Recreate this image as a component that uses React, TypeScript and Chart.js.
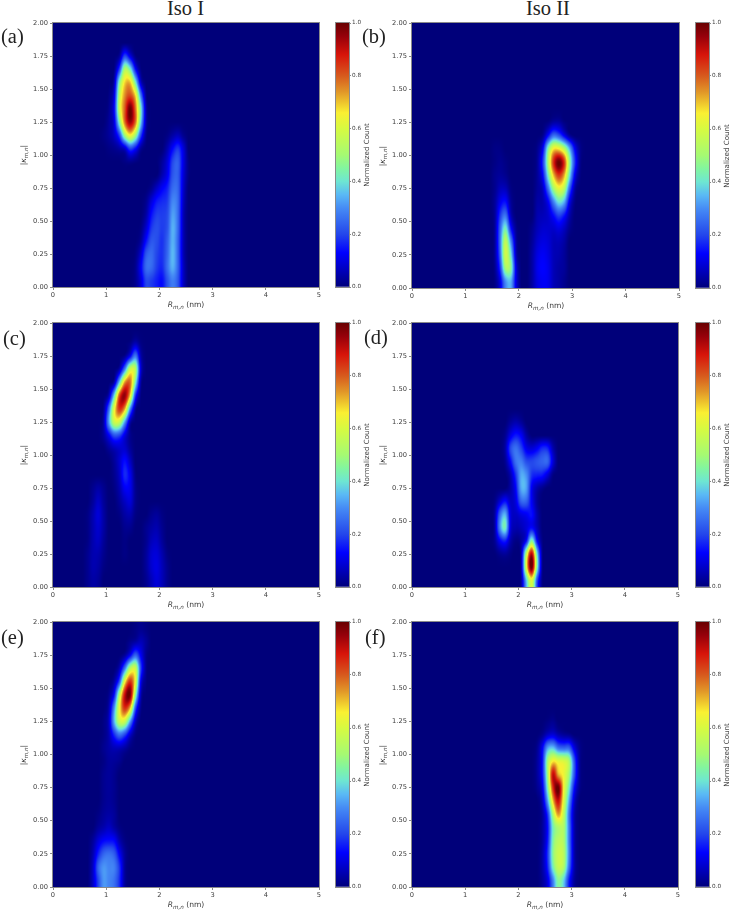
import React, { useEffect, useRef } from "react";
import { Chart, registerables, ScatterController } from "chart.js";

// Each row: [|kappa| bin centre, R of first bin, normalized count per 0.1 nm bin...]
type Row = number[];

const panelAUpper: Row[] = [
  [1.75, 1.25, 0.03, 0.2, 0.1, 0.01],
  [1.65, 1.15, 0.01, 0.2, 0.52, 0.42, 0.14, 0.01],
  [1.55, 1.15, 0.05, 0.45, 0.68, 0.7, 0.42, 0.08],
  [1.45, 1.05, 0.01, 0.1, 0.55, 0.75, 0.82, 0.68, 0.28, 0.02],
  [1.35, 1.05, 0.02, 0.13, 0.58, 0.8, 1.0, 0.78, 0.42, 0.05],
  [1.25, 1.05, 0.03, 0.1, 0.45, 0.78, 0.95, 0.78, 0.38, 0.05],
  [1.15, 0.95, 0.01, 0.03, 0.07, 0.2, 0.5, 0.65, 0.5, 0.2, 0.02],
  [1.05, 1.05, 0.01, 0.02, 0.04, 0.08, 0.2, 0.14, 0.03],
  [0.95, 1.35, 0.01, 0.02, 0.01],
];
const panelALower: Row[] = [
  [1.15, 2.15, 0.01, 0.04, 0.06, 0.02],
  [1.05, 2.15, 0.05, 0.13, 0.18, 0.09],
  [0.95, 2.05, 0.03, 0.09, 0.2, 0.23, 0.1, 0.01],
  [0.85, 2.05, 0.05, 0.11, 0.22, 0.23, 0.09, 0.01],
  [0.75, 1.85, 0.02, 0.07, 0.12, 0.16, 0.25, 0.24, 0.08],
  [0.65, 1.75, 0.02, 0.09, 0.15, 0.17, 0.19, 0.29, 0.25, 0.07],
  [0.55, 1.75, 0.04, 0.14, 0.19, 0.19, 0.21, 0.32, 0.25, 0.06],
  [0.45, 1.65, 0.01, 0.08, 0.18, 0.21, 0.19, 0.22, 0.34, 0.25, 0.06],
  [0.35, 1.65, 0.03, 0.14, 0.22, 0.21, 0.18, 0.24, 0.34, 0.24, 0.06],
  [0.25, 1.55, 0.01, 0.08, 0.22, 0.25, 0.2, 0.18, 0.25, 0.35, 0.24, 0.06],
  [0.15, 1.55, 0.02, 0.12, 0.25, 0.25, 0.19, 0.17, 0.26, 0.34, 0.24, 0.07],
  [0.05, 1.55, 0.02, 0.09, 0.2, 0.19, 0.16, 0.14, 0.22, 0.28, 0.22, 0.07],
];

const panelBMain: Row[] = [
  [1.25, 2.55, 0.01, 0.04, 0.04, 0.01],
  [1.15, 2.45, 0.02, 0.14, 0.26, 0.22, 0.12, 0.03],
  [1.05, 2.35, 0.02, 0.12, 0.45, 0.66, 0.66, 0.55, 0.34, 0.12, 0.02],
  [0.95, 2.35, 0.03, 0.18, 0.52, 0.85, 1.0, 0.85, 0.48, 0.18, 0.02],
  [0.85, 2.35, 0.03, 0.13, 0.42, 0.7, 0.84, 0.72, 0.4, 0.11, 0.01],
  [0.75, 2.35, 0.03, 0.07, 0.26, 0.5, 0.62, 0.54, 0.24, 0.04],
  [0.65, 2.35, 0.04, 0.05, 0.12, 0.28, 0.4, 0.34, 0.11, 0.01],
  [0.55, 2.35, 0.05, 0.06, 0.08, 0.14, 0.2, 0.15, 0.05],
  [0.45, 2.25, 0.02, 0.06, 0.08, 0.08, 0.08, 0.1, 0.07, 0.02],
  [0.35, 2.25, 0.03, 0.08, 0.1, 0.09, 0.06, 0.06, 0.04],
  [0.25, 2.25, 0.04, 0.1, 0.12, 0.1, 0.06, 0.05, 0.03],
  [0.15, 2.25, 0.04, 0.11, 0.13, 0.11, 0.06, 0.04, 0.03],
  [0.05, 2.25, 0.04, 0.1, 0.12, 0.11, 0.06, 0.04, 0.02],
];
const panelBLeft: Row[] = [
  [1.05, 1.55, 0.01, 0.01],
  [0.95, 1.55, 0.01, 0.02, 0.01],
  [0.85, 1.55, 0.02, 0.03, 0.02],
  [0.75, 1.55, 0.02, 0.06, 0.06, 0.01],
  [0.65, 1.55, 0.03, 0.11, 0.14, 0.03],
  [0.55, 1.55, 0.03, 0.18, 0.26, 0.06],
  [0.45, 1.55, 0.03, 0.24, 0.42, 0.15, 0.02],
  [0.35, 1.55, 0.03, 0.26, 0.55, 0.3, 0.04],
  [0.25, 1.55, 0.03, 0.24, 0.58, 0.4, 0.06],
  [0.15, 1.55, 0.02, 0.18, 0.5, 0.46, 0.1],
  [0.05, 1.55, 0.01, 0.1, 0.3, 0.34, 0.1],
];

const panelCMain: Row[] = [
  [1.85, 1.45, 0.01, 0.05, 0.01],
  [1.75, 1.35, 0.02, 0.12, 0.27, 0.05],
  [1.65, 1.25, 0.05, 0.28, 0.58, 0.53, 0.09],
  [1.55, 1.15, 0.05, 0.38, 0.74, 0.78, 0.42, 0.04],
  [1.45, 1.05, 0.06, 0.38, 0.82, 0.95, 0.68, 0.18, 0.01],
  [1.35, 0.95, 0.02, 0.25, 0.62, 0.85, 0.72, 0.3, 0.03],
  [1.25, 0.95, 0.04, 0.32, 0.57, 0.57, 0.32, 0.05],
  [1.15, 0.95, 0.03, 0.12, 0.22, 0.2, 0.1, 0.02],
  [1.05, 1.05, 0.03, 0.06, 0.08, 0.08, 0.03],
  [0.95, 1.15, 0.03, 0.08, 0.14, 0.07],
  [0.85, 1.15, 0.02, 0.07, 0.17, 0.11, 0.01],
  [0.75, 1.15, 0.01, 0.05, 0.12, 0.11, 0.02],
  [0.65, 1.25, 0.03, 0.07, 0.09, 0.02],
  [0.55, 1.25, 0.01, 0.04, 0.05, 0.01],
  [0.45, 1.35, 0.02, 0.02],
  [0.35, 1.35, 0.01],
  [0.25, 1.35, 0.01],
];
const panelCLeft: Row[] = [
  [0.75, 0.75, 0.02, 0.04, 0.02],
  [0.65, 0.75, 0.03, 0.07, 0.03],
  [0.55, 0.65, 0.01, 0.05, 0.09, 0.04],
  [0.45, 0.65, 0.01, 0.05, 0.08, 0.04],
  [0.35, 0.65, 0.01, 0.05, 0.07, 0.03],
  [0.25, 0.65, 0.02, 0.05, 0.05, 0.02],
  [0.15, 0.65, 0.02, 0.05, 0.04, 0.01],
  [0.05, 0.65, 0.02, 0.04, 0.03],
];
const panelCRight: Row[] = [
  [0.55, 1.85, 0.02, 0.03, 0.01],
  [0.45, 1.75, 0.02, 0.04, 0.05, 0.02],
  [0.35, 1.75, 0.02, 0.06, 0.07, 0.03],
  [0.25, 1.75, 0.03, 0.08, 0.09, 0.05, 0.01],
  [0.15, 1.75, 0.03, 0.08, 0.1, 0.06, 0.02],
  [0.05, 1.75, 0.02, 0.06, 0.09, 0.06, 0.02],
];

const panelDUpper: Row[] = [
  [1.25, 1.85, 0.03, 0.05, 0.03],
  [1.15, 1.75, 0.02, 0.1, 0.15, 0.12, 0.04],
  [1.05, 1.75, 0.04, 0.2, 0.26, 0.2, 0.11, 0.09, 0.12, 0.17, 0.16, 0.05],
  [0.95, 1.75, 0.02, 0.13, 0.26, 0.28, 0.21, 0.2, 0.22, 0.24, 0.24, 0.09],
  [0.85, 1.85, 0.05, 0.18, 0.33, 0.3, 0.18, 0.16, 0.15, 0.09, 0.01],
  [0.75, 1.85, 0.04, 0.13, 0.33, 0.32, 0.12, 0.05, 0.02],
  [0.65, 1.55, 0.01, 0.08, 0.14, 0.07, 0.1, 0.24, 0.24, 0.12, 0.03],
  [0.55, 1.55, 0.03, 0.24, 0.34, 0.1, 0.07, 0.1, 0.12, 0.14, 0.05],
  [0.45, 1.55, 0.03, 0.29, 0.42, 0.1, 0.05, 0.06, 0.09, 0.13, 0.06],
];
const panelDLower: Row[] = [
  [0.35, 1.55, 0.02, 0.12, 0.16, 0.05, 0.01, 0.03, 0.14, 0.45, 0.14, 0.01],
  [0.25, 1.65, 0.02, 0.03, 0.01, 0, 0.05, 0.55, 0.92, 0.4, 0.02],
  [0.15, 2.05, 0.05, 0.62, 1.0, 0.44, 0.02],
  [0.05, 2.05, 0.03, 0.36, 0.62, 0.22, 0.01],
];

const panelEMain: Row[] = [
  [1.95, 1.55, 0.01, 0.02, 0.01],
  [1.85, 1.45, 0.02, 0.04, 0.06, 0.03],
  [1.75, 1.35, 0.03, 0.12, 0.24, 0.12, 0.02],
  [1.65, 1.25, 0.06, 0.27, 0.54, 0.57, 0.2, 0.02],
  [1.55, 1.15, 0.04, 0.22, 0.64, 0.85, 0.62, 0.12, 0.01],
  [1.45, 1.05, 0.02, 0.14, 0.54, 0.9, 0.98, 0.47, 0.06],
  [1.35, 1.05, 0.05, 0.3, 0.64, 0.85, 0.7, 0.22, 0.02],
  [1.25, 0.95, 0.01, 0.07, 0.34, 0.57, 0.57, 0.32, 0.07],
  [1.15, 0.95, 0.01, 0.05, 0.17, 0.26, 0.2, 0.08, 0.01],
  [1.05, 0.95, 0.02, 0.04, 0.06, 0.06, 0.04, 0.01],
  [0.95, 0.95, 0.01, 0.03, 0.03, 0.02],
];
const panelELower: Row[] = [
  [0.85, 0.95, 0.02, 0.03, 0.02],
  [0.75, 0.95, 0.02, 0.03, 0.02],
  [0.65, 0.95, 0.02, 0.03, 0.02],
  [0.55, 0.85, 0.01, 0.03, 0.04, 0.03],
  [0.45, 0.85, 0.03, 0.05, 0.07, 0.04, 0.01],
  [0.35, 0.75, 0.03, 0.09, 0.13, 0.14, 0.13, 0.05, 0.01],
  [0.25, 0.75, 0.05, 0.16, 0.24, 0.26, 0.23, 0.12, 0.03],
  [0.15, 0.75, 0.07, 0.24, 0.31, 0.29, 0.28, 0.18, 0.03],
  [0.05, 0.75, 0.07, 0.2, 0.31, 0.29, 0.26, 0.17, 0.03],
];

const panelFMain: Row[] = [
  [1.25, 2.55, 0.01, 0.02],
  [1.15, 2.45, 0.02, 0.07, 0.09, 0.05, 0.03, 0.02],
  [1.05, 2.35, 0.02, 0.12, 0.32, 0.36, 0.26, 0.24, 0.24, 0.1, 0.02],
  [0.95, 2.35, 0.03, 0.14, 0.5, 0.66, 0.62, 0.6, 0.52, 0.22, 0.03],
  [0.85, 2.35, 0.03, 0.14, 0.5, 0.9, 0.72, 0.64, 0.5, 0.22, 0.03],
  [0.75, 2.35, 0.02, 0.1, 0.44, 0.85, 1.0, 0.66, 0.42, 0.14, 0.02],
  [0.65, 2.45, 0.06, 0.32, 0.7, 0.9, 0.62, 0.33, 0.08],
  [0.55, 2.45, 0.03, 0.18, 0.52, 0.74, 0.56, 0.27, 0.05],
  [0.45, 2.45, 0.03, 0.14, 0.42, 0.52, 0.52, 0.28, 0.05],
  [0.35, 2.45, 0.03, 0.15, 0.44, 0.54, 0.52, 0.28, 0.05],
  [0.25, 2.45, 0.04, 0.18, 0.46, 0.57, 0.54, 0.29, 0.05],
  [0.15, 2.45, 0.04, 0.16, 0.42, 0.56, 0.52, 0.26, 0.05],
  [0.05, 2.45, 0.03, 0.1, 0.28, 0.46, 0.38, 0.16, 0.03],
];

const rTicks = [0, 1, 2, 3, 4, 5];
const kappaTicks = [0, 0.25, 0.5, 0.75, 1, 1.25, 1.5, 1.75, 2];
const countTicks = [0, 0.2, 0.4, 0.6, 0.8, 1];
// Colour map: [count, red, green, blue]
const colorStops = [
  [0, 0, 0, 122],
  [0.08, 0, 0, 205],
  [0.13, 0, 0, 255],
  [0.2, 35, 70, 235],
  [0.3, 70, 140, 245],
  [0.35, 90, 185, 245],
  [0.4, 110, 230, 210],
  [0.45, 130, 245, 160],
  [0.5, 165, 250, 115],
  [0.6, 215, 250, 65],
  [0.66, 250, 240, 50],
  [0.74, 225, 150, 40],
  [0.8, 215, 90, 30],
  [0.88, 215, 20, 10],
  [0.95, 150, 0, 10],
  [1, 105, 0, 0],
];

const rBin = 0.1;
const kappaBin = 0.1;
const rBins = 50;
const kappaBins = 20;
const AXIS_COLOR = "#8a8a8a";
const TEXT_COLOR = "#3c3c3c";
const SANS = "'DejaVu Sans', sans-serif";

function colormap(v: number): [number, number, number] {
  const x = Math.max(0, Math.min(1, v));
  for (let i = 1; i < colorStops.length; i++) {
    const a = colorStops[i - 1];
    const b = colorStops[i];
    if (x <= b[0]) {
      const t = (x - a[0]) / (b[0] - a[0]);
      return [a[1] + t * (b[1] - a[1]), a[2] + t * (b[2] - a[2]), a[3] + t * (b[3] - a[3])];
    }
  }
  const last = colorStops[colorStops.length - 1];
  return [last[1], last[2], last[3]];
}

const catmull = (p0: number, p1: number, p2: number, p3: number, t: number) =>
  0.5 * (2 * p1 + (p2 - p0) * t + (2 * p0 - 5 * p1 + 4 * p2 - p3) * t * t + (3 * p1 - p0 - 3 * p2 + p3) * t * t * t);

class HeatmapController extends ScatterController {
  static id = "heatmap";
  static defaults = { ...(ScatterController as any).defaults };
  static overrides = (ScatterController as any).overrides;

  draw() {
    const self = this as any;
    const chart = self.chart;
    const meta = self.getMeta();
    const xScale = meta.xScale;
    const yScale = meta.yScale;
    const area = chart.chartArea;
    const cells = new Float32Array(rBins * kappaBins);
    for (const p of self.getDataset().data) {
      const i = Math.round(p.x / rBin - 0.5);
      const j = Math.round(p.y / kappaBin - 0.5);
      cells[j * rBins + i] = p.v;
    }
    const at = (i: number, j: number) =>
      cells[Math.max(0, Math.min(kappaBins - 1, j)) * rBins + Math.max(0, Math.min(rBins - 1, i))];
    const w = Math.round(area.right - area.left);
    const h = Math.round(area.bottom - area.top);
    const off = document.createElement("canvas");
    off.width = w;
    off.height = h;
    const octx = off.getContext("2d")!;
    const img = octx.createImageData(w, h);
    for (let py = 0; py < h; py++) {
      const fy = yScale.getValueForPixel(area.top + py + 0.5) / kappaBin - 0.5;
      const j = Math.floor(fy);
      const ty = fy - j;
      for (let px = 0; px < w; px++) {
        const fx = xScale.getValueForPixel(area.left + px + 0.5) / rBin - 0.5;
        const i = Math.floor(fx);
        const tx = fx - i;
        const col = [0, 1, 2, 3].map((n) =>
          catmull(at(i - 1, j - 1 + n), at(i, j - 1 + n), at(i + 1, j - 1 + n), at(i + 2, j - 1 + n), tx)
        );
        const [r, g, b] = colormap(catmull(col[0], col[1], col[2], col[3], ty));
        const o = (py * w + px) * 4;
        img.data[o] = r;
        img.data[o + 1] = g;
        img.data[o + 2] = b;
        img.data[o + 3] = 255;
      }
    }
    octx.putImageData(img, 0, 0);
    chart.ctx.drawImage(off, area.left, area.top);
  }
}

const framePlugin = {
  id: "frame",
  afterDatasetsDraw(chart: any) {
    const { ctx, chartArea: a } = chart;
    ctx.save();
    ctx.strokeStyle = AXIS_COLOR;
    ctx.lineWidth = 1;
    ctx.strokeRect(a.left - 0.5, a.top - 0.5, a.right - a.left + 1, a.bottom - a.top + 1);
    ctx.restore();
  },
};

Chart.register(...registerables, HeatmapController as any);

const toPoints = (rows: Row[]) => {
  const pts: { x: number; y: number; v: number }[] = [];
  for (const [k, r0, ...vals] of rows) {
    vals.forEach((v, i) => pts.push({ x: r0 + i * rBin, y: k, v }));
  }
  return pts;
};

const Y_W = 34;
const X_H = 24;
const PAD = 8;

const subStyle: React.CSSProperties = { fontSize: "5.6px", fontStyle: "italic", verticalAlign: "-1.5px", lineHeight: 0 };

function Heatmap({ rows, l, t, r, b }: { rows: Row[]; l: number; t: number; r: number; b: number }) {
  const ref = useRef<HTMLCanvasElement>(null);
  useEffect(() => {
    const chart = new Chart(ref.current!, {
      type: "heatmap" as any,
      plugins: [framePlugin],
      data: { datasets: [{ data: toPoints(rows) as any, pointRadius: 0 }] },
      options: {
        animation: false,
        responsive: false,
        devicePixelRatio: 1,
        events: [],
        layout: { padding: { top: PAD, right: PAD, left: 0, bottom: 0 } },
        plugins: { legend: { display: false }, tooltip: { enabled: false } },
        scales: {
          x: {
            type: "linear",
            min: 0,
            max: 5,
            afterFit: (s: any) => { s.height = X_H; },
            afterBuildTicks: (s: any) => { s.ticks = rTicks.map((value) => ({ value })); },
            border: { display: false },
            grid: { drawOnChartArea: false, drawTicks: true, tickLength: 3, tickColor: AXIS_COLOR },
            ticks: { color: TEXT_COLOR, font: { family: SANS, size: 6.7 }, padding: 1, maxRotation: 0, autoSkip: false },
          },
          y: {
            type: "linear",
            min: 0,
            max: 2,
            afterFit: (s: any) => { s.width = Y_W; },
            afterBuildTicks: (s: any) => { s.ticks = kappaTicks.map((value) => ({ value })); },
            border: { display: false },
            grid: { drawOnChartArea: false, drawTicks: true, tickLength: 3, tickColor: AXIS_COLOR },
            ticks: { color: TEXT_COLOR, font: { family: SANS, size: 6.7 }, padding: 2, autoSkip: false, callback: (v: any) => Number(v).toFixed(2) },
          },
        },
      } as any,
    });
    return () => chart.destroy();
  }, []);
  const w = r - l + Y_W + PAD;
  const h = b - t + X_H + PAD;
  const midX = Math.round((l + r) / 2);
  const midY = Math.round((t + b) / 2);
  const label: React.CSSProperties = {
    position: "absolute", width: 80, height: 12, lineHeight: "12px", textAlign: "center",
    font: `7.6px/12px ${SANS}`, color: TEXT_COLOR, whiteSpace: "nowrap",
  };
  return (
    <>
      <canvas ref={ref} width={w} height={h}
        style={{ position: "absolute", left: l - Y_W, top: t - PAD, width: w, height: h, display: "block" }} />
      <span style={{ ...label, left: midX - 40, top: b + 12 }}>
        <i>R</i><span style={subStyle}>m,n</span> (nm)
      </span>
      <span style={{ ...label, left: l - 29 - 40, top: midY - 6, transform: "rotate(-90deg)" }}>
        |<i>κ</i><span style={subStyle}>m,n</span>|
      </span>
    </>
  );
}

function Colorbar({ l, t, r, b }: { l: number; t: number; r: number; b: number }) {
  const ref = useRef<HTMLCanvasElement>(null);
  const Y_R = 18;
  useEffect(() => {
    const chart = new Chart(ref.current!, {
      type: "bar",
      plugins: [framePlugin],
      data: {
        labels: ["Normalized Count"],
        datasets: [{
          data: [[0, 1]] as any,
          barPercentage: 1,
          categoryPercentage: 1,
          backgroundColor: (c: any) => {
            const a = c.chart.chartArea;
            if (!a) return "#00007a";
            const g = c.chart.ctx.createLinearGradient(0, a.bottom, 0, a.top);
            colorStops.forEach((s) => g.addColorStop(s[0], `rgb(${s[1]},${s[2]},${s[3]})`));
            return g;
          },
        }],
      },
      options: {
        animation: false,
        responsive: false,
        devicePixelRatio: 1,
        events: [],
        layout: { padding: { top: PAD, bottom: PAD, left: 1, right: 0 } },
        plugins: { legend: { display: false }, tooltip: { enabled: false } },
        scales: {
          x: { display: false },
          y: {
            position: "right",
            min: 0,
            max: 1,
            afterFit: (s: any) => { s.width = Y_R; },
            afterBuildTicks: (s: any) => { s.ticks = countTicks.map((value) => ({ value })); },
            border: { display: false },
            grid: { drawOnChartArea: false, drawTicks: true, tickLength: 2, tickColor: AXIS_COLOR },
            ticks: { color: TEXT_COLOR, font: { family: SANS, size: 5.7 }, padding: 1, autoSkip: false, callback: (v: any) => Number(v).toFixed(1) },
          },
        },
      } as any,
    });
    return () => chart.destroy();
  }, []);
  const w = r - l + Y_R + 1;
  const h = b - t + 2 * PAD;
  return (
    <>
      <canvas ref={ref} width={w} height={h}
        style={{ position: "absolute", left: l - 1, top: t - PAD, width: w, height: h, display: "block" }} />
      <span style={{
        position: "absolute", left: r + 18 - 40, top: Math.round((t + b) / 2) - 6, width: 80, height: 12,
        textAlign: "center", transform: "rotate(-90deg)",
        font: `7.1px/12px ${SANS}`, color: TEXT_COLOR, whiteSpace: "nowrap",
      }}>Normalized Count</span>
    </>
  );
}

const panels = [
  { tag: "(a)", tagX: 1, tagY: 43, rows: [...panelAUpper, ...panelALower], l: 53, t: 23, r: 319, b: 287, cl: 336 },
  { tag: "(b)", tagX: 362, tagY: 43, rows: [...panelBLeft, ...panelBMain], l: 412, t: 23, r: 679, b: 288, cl: 696 },
  { tag: "(c)", tagX: 3, tagY: 345, rows: [...panelCLeft, ...panelCRight, ...panelCMain], l: 53, t: 323, r: 319, b: 587, cl: 336 },
  { tag: "(d)", tagX: 364, tagY: 344, rows: [...panelDUpper, ...panelDLower], l: 412, t: 323, r: 678, b: 587, cl: 696 },
  { tag: "(e)", tagX: 1, tagY: 644, rows: [...panelEMain, ...panelELower], l: 53, t: 622, r: 319, b: 887, cl: 336 },
  { tag: "(f)", tagX: 365, tagY: 644, rows: panelFMain, l: 412, t: 622, r: 678, b: 887, cl: 696 },
];

const serif = (left: number, baseline: number): React.CSSProperties => ({
  position: "absolute",
  left,
  top: baseline - 17.2,
  font: "20.5px/1 'Liberation Serif', serif",
  color: "#222",
  whiteSpace: "nowrap",
});

export default function App() {
  return (
    <div style={{ position: "absolute", left: 0, top: 0, width: 732, height: 911, background: "#fff", overflow: "hidden", filter: "blur(0.4px)" }}>
      <span style={serif(167, 15)}>Iso I</span>
      <span style={serif(526, 15)}>Iso II</span>
      {panels.map((p) => (
        <React.Fragment key={p.tag}>
          <Heatmap rows={p.rows} l={p.l} t={p.t} r={p.r} b={p.b} />
          <Colorbar l={p.cl} t={p.t} r={p.cl + 13} b={p.b} />
          <span style={serif(p.tagX, p.tagY)}>{p.tag}</span>
        </React.Fragment>
      ))}
    </div>
  );
}
